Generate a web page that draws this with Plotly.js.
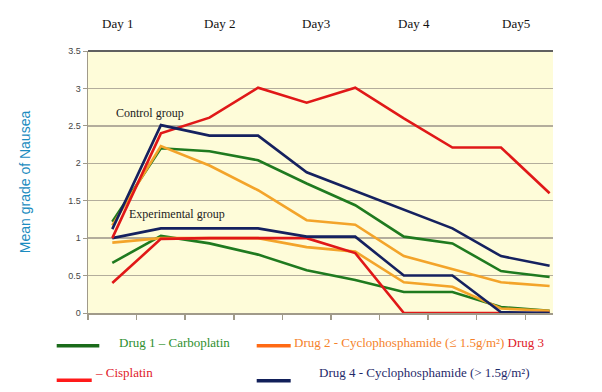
<!DOCTYPE html>
<html>
<head>
<meta charset="utf-8">
<script src="https://cdn.plot.ly/plotly-3.0.1.min.js"></script>
<style>html,body{margin:0;padding:0;background:#fff;}#chart{width:602px;height:392px;}</style>
</head>
<body>
<div id="chart"></div>
<script>
// Time points (two per day)
const timePoints = [0, 1, 2, 3, 4, 5, 6, 7, 8, 9];
const dayLabels = ["Day 1", "Day 2", "Day3", "Day 4", "Day5"];
const dayLabelPoints = [0.1, 2.2, 4.2, 6.2, 8.3];
const yTicks = [0, 0.5, 1, 1.5, 2, 2.5, 3, 3.5];
const yTickText = ["0", "0.5", "1", "1.5", "2", "2.5", "3", "3.5"];

// Control group
const drug1Control = [1.22, 2.20, 2.16, 2.04, 1.73, 1.44, 1.02, 0.93, 0.56, 0.48];
const drug2Control = [1.17, 2.23, 1.97, 1.64, 1.24, 1.18, 0.76, 0.58, 0.41, 0.36];
const drug3Control = [1.00, 2.40, 2.61, 3.01, 2.81, 3.01, 2.60, 2.21, 2.21, 1.60];
const drug4Control = [1.12, 2.51, 2.37, 2.37, 1.88, 1.63, 1.37, 1.13, 0.76, 0.63];
// Experimental group
const drug1Exp = [0.67, 1.03, 0.93, 0.78, 0.57, 0.44, 0.28, 0.28, 0.08, 0.03];
const drug2Exp = [0.94, 1.00, 1.00, 1.00, 0.88, 0.82, 0.41, 0.35, 0.06, 0.03];
const drug3Exp = [0.40, 0.99, 1.00, 1.00, 1.00, 0.80, 0.00, 0.00, 0.00, 0.00];
const drug4Exp = [1.00, 1.13, 1.13, 1.13, 1.02, 1.02, 0.50, 0.50, 0.01, 0.00];

const cGreen = "#1f7a1f", cOrange = "#f3a42a", cRed = "#e01818", cNavy = "#15215f";

function tr(y, color) {
  return {x: timePoints, y: y, type: "scatter", mode: "lines",
          line: {color: color, width: 2.6}, hoverinfo: "skip", showlegend: false};
}
const data = [
  tr(drug1Exp, cGreen), tr(drug2Exp, cOrange), tr(drug3Exp, cRed), tr(drug4Exp, cNavy),
  tr(drug1Control, cGreen), tr(drug2Control, cOrange), tr(drug3Control, cRed), tr(drug4Control, cNavy)
];

const serif = "Liberation Serif";
const sans = "Liberation Sans";
const annotations = [];
dayLabels.forEach((d, i) => annotations.push({
  text: d, xref: "x", yref: "paper", x: dayLabelPoints[i], y: 1.105,
  showarrow: false, xanchor: "center", yanchor: "middle",
  font: {family: serif, size: 13, color: "#111", weight: "normal"}
}));
annotations.push({text: "Control group", xref: "paper", yref: "paper", x: 0.056, y: 0.763,
  xanchor: "left", yanchor: "middle", showarrow: false, font: {family: serif, size: 12, color: "#222"}});
annotations.push({text: "Experimental group", xref: "paper", yref: "paper", x: 0.084, y: 0.378,
  xanchor: "left", yanchor: "middle", showarrow: false, font: {family: serif, size: 12, color: "#222"}});
annotations.push({text: "Mean grade of Nausea", xref: "paper", yref: "paper", x: -0.135, y: 0.5,
  textangle: -90, xanchor: "center", yanchor: "middle", showarrow: false,
  font: {family: sans, size: 14, color: "#1c8cc0"}});
// custom legend texts
annotations.push({text: "Drug 1 \u2013 Carboplatin", xref: "paper", yref: "paper", x: 0.0624, y: -0.113,
  xanchor: "left", yanchor: "middle", showarrow: false, font: {family: serif, size: 13, color: "#2e8f2e"}});
annotations.push({text: "Drug 2 - Cyclophosphamide (\u2264 1.5g/m\u00b2) <span style='color:#e0202a'>Drug 3</span>",
  xref: "paper", yref: "paper", x: 0.438, y: -0.113,
  xanchor: "left", yanchor: "middle", showarrow: false, font: {family: serif, size: 13, color: "#f5822a"}});
annotations.push({text: "\u2013 Cisplatin", xref: "paper", yref: "paper", x: 0.0108, y: -0.228,
  xanchor: "left", yanchor: "middle", showarrow: false, font: {family: serif, size: 13, color: "#e0202a"}});
annotations.push({text: "Drug 4 - Cyclophosphamide (> 1.5g/m\u00b2)", xref: "paper", yref: "paper", x: 0.4918, y: -0.228,
  xanchor: "left", yanchor: "middle", showarrow: false, font: {family: serif, size: 13, color: "#1f2a6a"}});

function seg(x0, x1, y, color) {
  return {type: "line", xref: "paper", yref: "paper", x0: x0, x1: x1, y0: y, y1: y,
          line: {color: color, width: 3.5}};
}
const shapes = [
  {type: "line", xref: "paper", yref: "paper", x0: 0, x1: 1, y0: 1, y1: 1, line: {color: "#606060", width: 2}},
  seg(-0.0673, 0.0243, -0.125, "#1a6b1a"),
  seg(0.3628, 0.4359, -0.125, "#ff6a14"),
  seg(-0.0673, 0.008, -0.257, "#ff1a1a"),
  seg(0.3628, 0.4359, -0.259, "#12205a")
];

const layout = {
  width: 602, height: 392,
  margin: {l: 88, r: 49, t: 51, b: 79},
  paper_bgcolor: "#ffffff", plot_bgcolor: "#fefcd9",
  showlegend: false,
  font: {family: serif},
  xaxis: {range: [-0.5, 9.07], tickmode: "array", tickvals: [-0.5, 0.5, 1.5, 2.5, 3.5, 4.5, 5.5, 6.5, 7.5, 8.5],
          showticklabels: false, ticks: "outside", ticklen: 5, tickcolor: "#a09a8a", tickwidth: 1.5,
          showgrid: false, zeroline: false, showline: true, linecolor: "#a09a8a", linewidth: 1.5, fixedrange: true},
  yaxis: {range: [0, 3.5], tickmode: "array", tickvals: yTicks, ticktext: yTickText,
          ticks: "outside", ticklen: 4, tickcolor: "#a09a8a", showgrid: true, gridcolor: "#b3ad9c", gridwidth: 1.5,
          zeroline: false, showline: true, linecolor: "#a09a8a", linewidth: 1.5,
          tickfont: {family: sans, size: 9, color: "#444"}, fixedrange: true},
  annotations: annotations,
  shapes: shapes
};
Plotly.newPlot("chart", data, layout, {staticPlot: true, displayModeBar: false});
</script>
</body>
</html>
